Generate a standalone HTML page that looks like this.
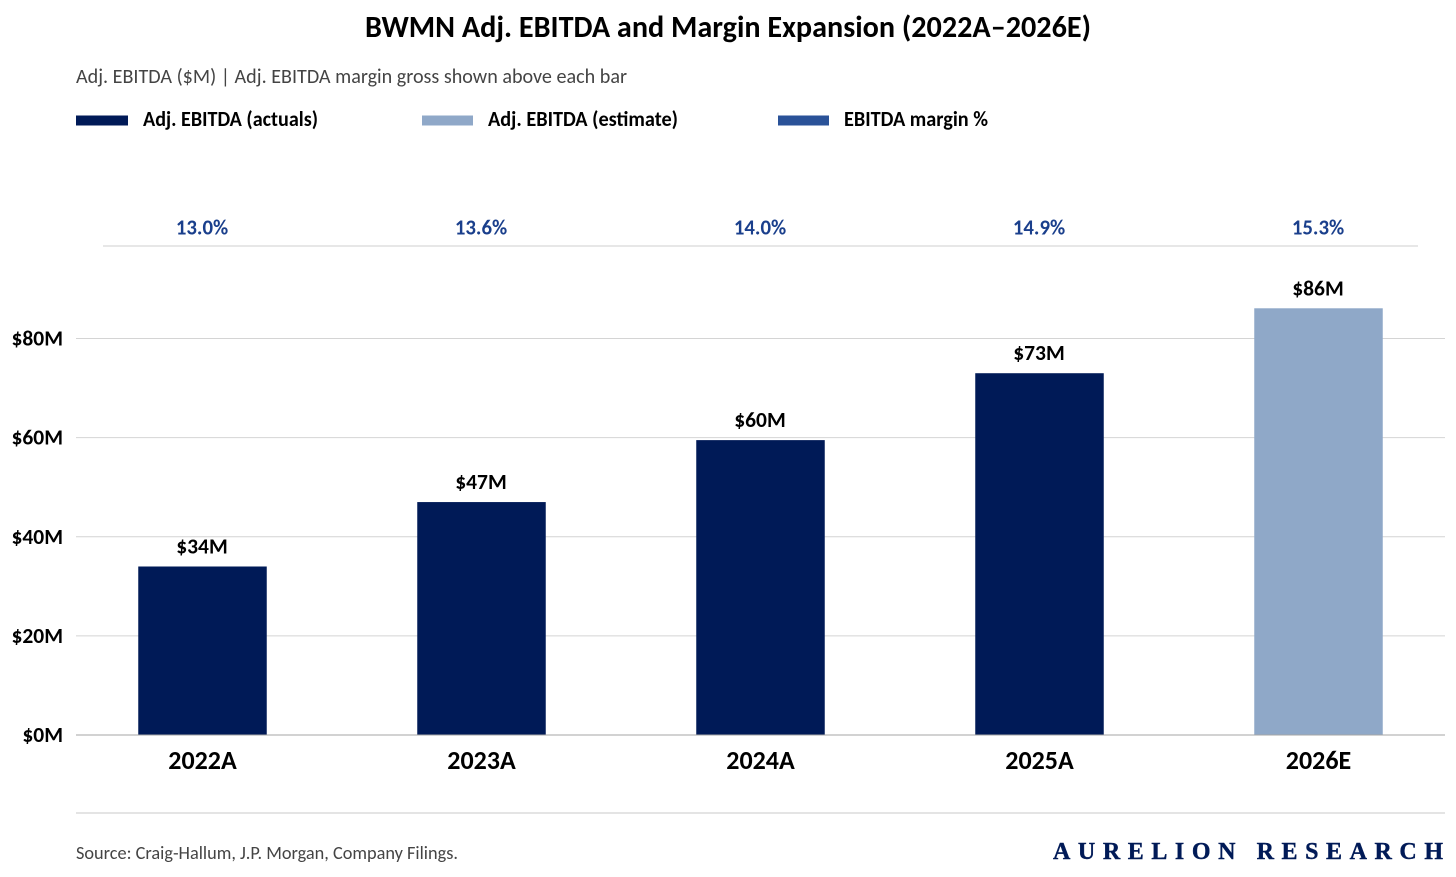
<!DOCTYPE html>
<html lang="en">
<head>
<meta charset="utf-8">
<title>BWMN Adj. EBITDA and Margin Expansion</title>
<style>
html,body{margin:0;padding:0;background:#fff;width:1456px;height:877px;overflow:hidden}
svg{display:block}
text{font-family:"Carlito","Liberation Sans",sans-serif}
.b{font-weight:700}
</style>
</head>
<body>
<svg id="chart" xmlns="http://www.w3.org/2000/svg" width="1456" height="877" viewBox="0 0 1456 877">
  <rect x="0" y="0" width="1456" height="877" fill="#ffffff"/>
  <text class="b" x="728" y="37" text-anchor="middle" font-size="30.5" fill="#000" textLength="726" lengthAdjust="spacingAndGlyphs">BWMN Adj. EBITDA and Margin Expansion (2022A–2026E)</text>
  <text x="76" y="83" font-size="20" fill="#444" textLength="551" lengthAdjust="spacingAndGlyphs">Adj. EBITDA ($M) | Adj. EBITDA margin gross shown above each bar</text>

  <rect x="76" y="115.5" width="52" height="10" fill="#001a57"/>
  <text class="b" x="143" y="126" font-size="21" fill="#000" textLength="175" lengthAdjust="spacingAndGlyphs">Adj. EBITDA (actuals)</text>
  <rect x="422" y="115.5" width="51" height="10" fill="#8fa8c8"/>
  <text class="b" x="488" y="126" font-size="21" fill="#000" textLength="190" lengthAdjust="spacingAndGlyphs">Adj. EBITDA (estimate)</text>
  <rect x="778" y="115.5" width="51" height="10" fill="#2a5298"/>
  <text class="b" x="844" y="126" font-size="21" fill="#000" textLength="144" lengthAdjust="spacingAndGlyphs">EBITDA margin %</text>

  <line x1="103" y1="246" x2="1418" y2="246" stroke="#cfcfcf" stroke-width="1"/>
  <g id="grid"></g>
  <g id="bars"></g>
  <line x1="76" y1="735" x2="1445" y2="735" stroke="#a6a6a6" stroke-width="1"/>
  <g id="labels"></g>

  <line x1="76" y1="813" x2="1445" y2="813" stroke="#c8c8c8" stroke-width="1"/>
  <text x="76" y="859" font-size="18.5" fill="#444" textLength="382" lengthAdjust="spacingAndGlyphs">Source: Craig-Hallum, J.P. Morgan, Company Filings.</text>
  <text x="1053" y="859" font-size="24" font-weight="700" fill="#001a57" stroke="#001a57" stroke-width="0.4" style="font-family:'Liberation Serif',serif" textLength="390" lengthAdjust="spacing">AURELION RESEARCH</text>
</svg>
<script>
const categories = ["2022A", "2023A", "2024A", "2025A", "2026E"];
const ebitdaValues = [34, 47, 59.5, 73, 86.1];
const ebitdaLabels = ["$34M", "$47M", "$60M", "$73M", "$86M"];
const marginLabels = ["13.0%", "13.6%", "14.0%", "14.9%", "15.3%"];
const isEstimate = [false, false, false, false, true];
const yTicks = [0, 20, 40, 60, 80];
const yTickLabels = ["$0M", "$20M", "$40M", "$60M", "$80M"];

const NS = "http://www.w3.org/2000/svg";
const y0 = 735, yPerUnit = 4.956;
const x0 = 63, band = 279, barWidth = 128.5;
function yScale(v) { return y0 - v * yPerUnit; }
function xCenter(i) { return x0 + band * (i + 0.5); }
function mk(tag, parent, props) {
  const el = document.createElementNS(NS, tag);
  for (const k in props) el.setAttribute(k, props[k]);
  parent.appendChild(el);
  return el;
}
function label(parent, str, x, y, size, fill, anchor) {
  const el = mk("text", parent, {
    x: x, y: y, "font-size": size, fill: fill, "text-anchor": anchor, "class": "b"
  });
  el.textContent = str;
  return el;
}
const gridG = document.getElementById("grid");
const barsG = document.getElementById("bars");
const labelsG = document.getElementById("labels");

yTicks.forEach(function (t, i) {
  if (t !== 0) {
    const ln = mk("line", gridG, { x1: 76, x2: 1445, y1: yScale(t), y2: yScale(t), stroke: "#d4d4d4", "stroke-width": 1 });
    
    
  }
  const tl = label(labelsG, yTickLabels[i], 63, yScale(t) + 7, 21.5, "#000", "end");
  
  
});

categories.forEach(function (c, i) {
  const cx = xCenter(i), top = yScale(ebitdaValues[i]);
  const bar = mk("rect", barsG, {
    x: cx - barWidth / 2, y: top, width: barWidth, height: y0 - top,
    fill: isEstimate[i] ? "#8fa8c8" : "#001a57"
  });
  
  

  const val = label(labelsG, ebitdaLabels[i], cx - 0.5, top - 13, 21.5, "#000", "middle");
  
  

  const pct = label(labelsG, marginLabels[i], cx - 0.5, 234.5, 20.8, "#1a3f8c", "middle");
  
  

  const cat = label(labelsG, c, cx, 769, 26, "#000", "middle");
  
  
});
</script>
</body>
</html>
